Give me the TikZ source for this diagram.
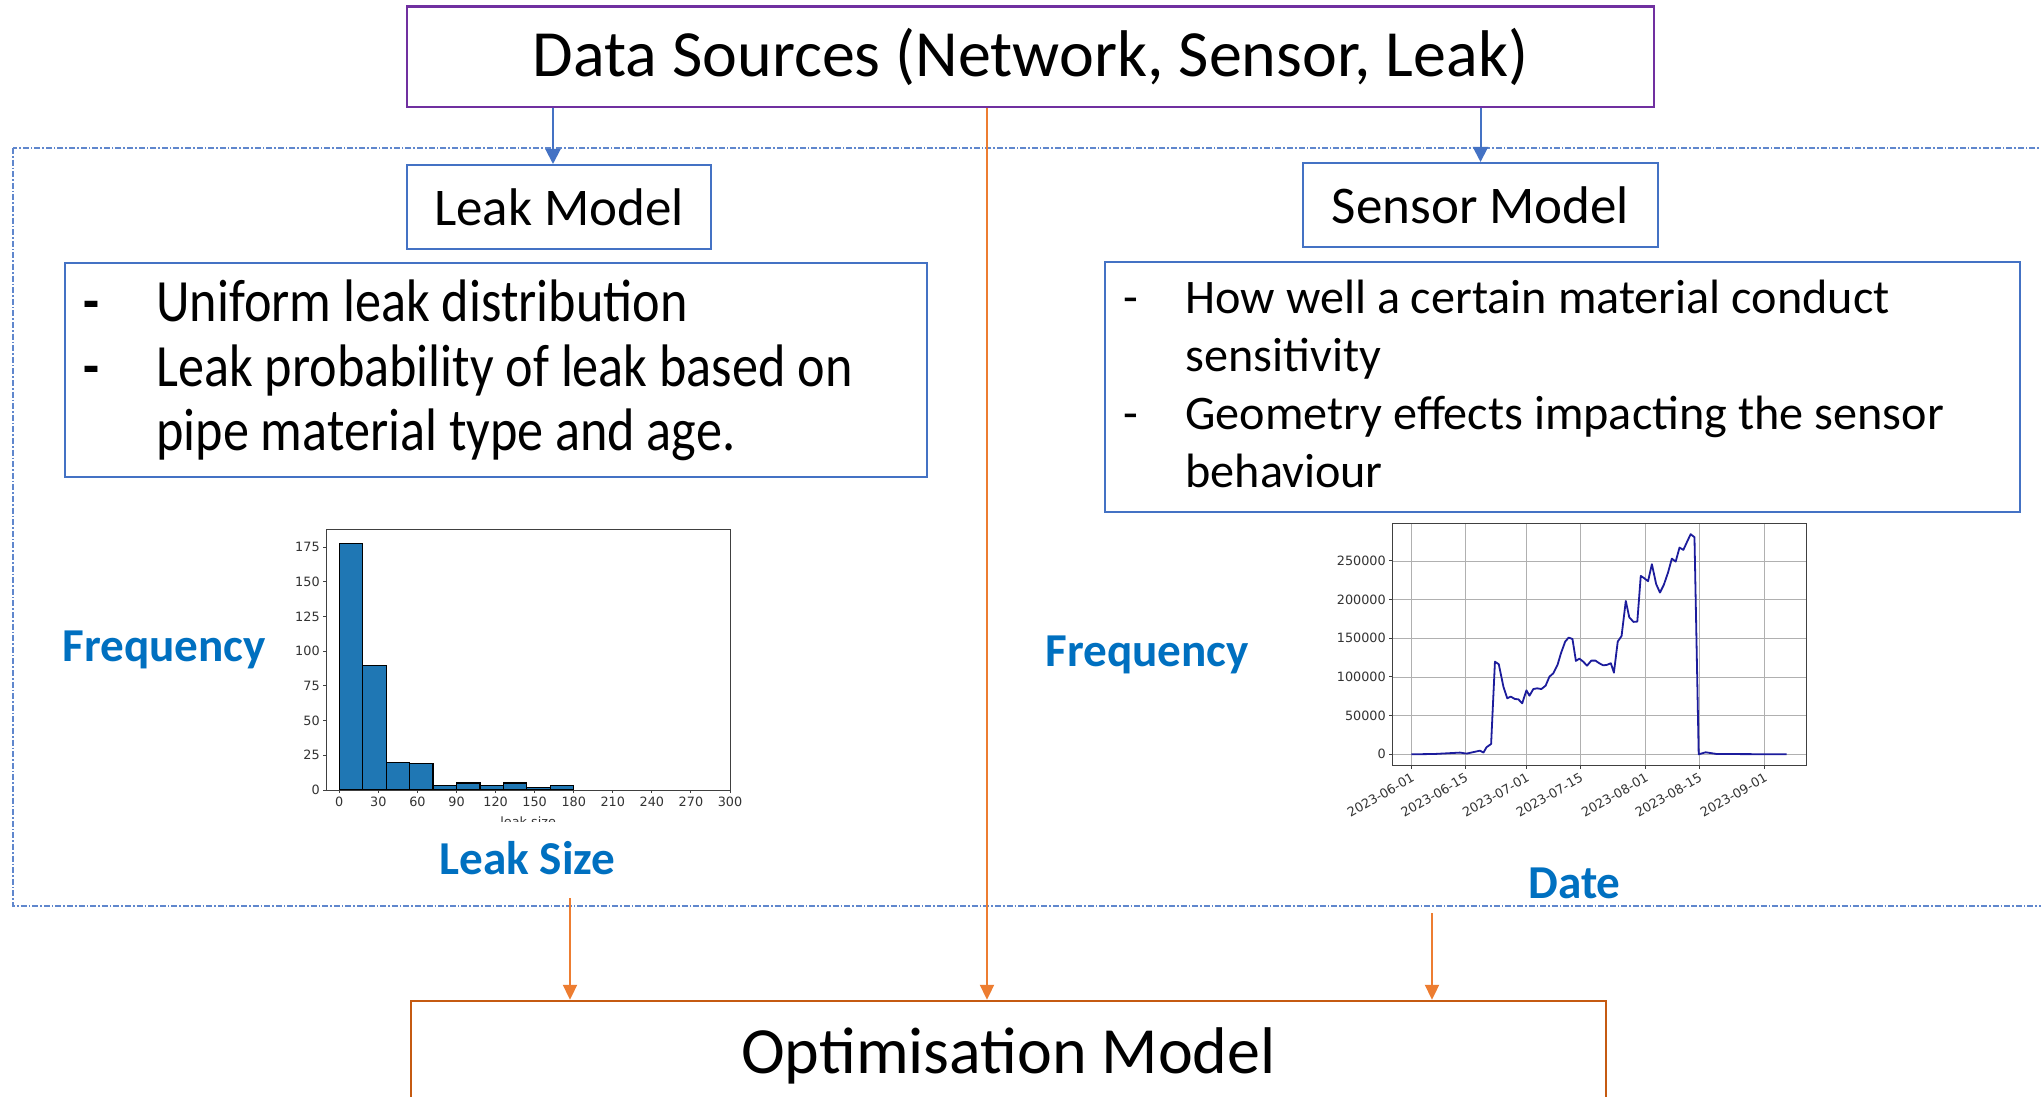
\documentclass[tikz,border=0pt]{standalone}
\usepackage{fontspec}
\setmainfont{Carlito}
\newfontfamily\condfont[FakeStretch=0.87]{Carlito}
\newfontfamily\plotfont{DejaVu Sans}
\usetikzlibrary{arrows.meta,positioning}
\definecolor{boxblue}{HTML}{4472C4}
\definecolor{srcpurple}{HTML}{7030A0}
\definecolor{linkorange}{HTML}{ED7D31}
\definecolor{optorange}{HTML}{C55A11}
\definecolor{labelblue}{HTML}{0070C0}
\definecolor{barblue}{HTML}{1F77B4}
\definecolor{tracenavy}{HTML}{1C1C9C}
\definecolor{gridgrey}{HTML}{B0B0B0}
\tikzset{
  modelbox/.style={draw=boxblue, line width=1pt, inner sep=0pt, font=\fontsize{26.5}{32}\selectfont},
  pointbox/.style={draw=boxblue, line width=0.9pt, inner sep=0pt},
  leakline/.style={anchor=base west, inner sep=0pt, font=\condfont\fontsize{30}{35}\selectfont},
  leakdash/.style={anchor=base, inner sep=0pt, font=\condfont\bfseries\fontsize{30}{35}\selectfont},
  sensline/.style={anchor=base west, inner sep=0pt, font=\fontsize{24.1}{29}\selectfont},
  sensdash/.style={anchor=base, inner sep=0pt, font=\fontsize{24.1}{29}\selectfont},
  axislabel/.style={anchor=base west, inner sep=0pt, text=labelblue, font=\bfseries\fontsize{23.6}{28}\selectfont},
  ticklabel/.style={inner sep=1.5pt, text=black!80, font=\plotfont\fontsize{6.4}{7}\selectfont},
  srcarrow/.style={draw=boxblue, line width=1pt, -{Triangle[length=7.5pt,width=7.5pt]}},
  optarrow/.style={draw=linkorange, line width=1pt, -{Triangle[length=7.5pt,width=7pt]}}
}
\begin{document}
\begin{tikzpicture}[x=0.5pt,y=-0.5pt]
\clip (0,0) rectangle (2041,1097);
\fill[white] (0,0) rectangle (2041,1097);

% group of the two models
\draw[boxblue!85, line width=0.8pt, dash pattern=on 3pt off 1pt on 0.8pt off 1pt] (13,148) rectangle (2070,906);

\node[draw=srcpurple, line width=1.3pt, minimum width=623.5pt, minimum height=50.25pt, font=\fontsize{33}{40}\selectfont] (ds) at (1030.5,56.75) {Data Sources (Network, Sensor, Leak)};
\node[modelbox, minimum width=152pt, minimum height=42pt] (leakm) at (559,207) {Leak Model};
\node[modelbox, minimum width=177.5pt, minimum height=42pt] (sensm) at (1480.5,205) {Sensor Model};

% leak model points
\node[pointbox, minimum width=431pt, minimum height=107pt] (leakpts) at (496,369.7) {};
\node[leakdash] (ld1) at (91,321.7) {-};
\node[leakline] (lt1) at (156,321.7) {Uniform leak distribution};
\node[leakdash] (ld2) at (91,386.7) {-};
\node[leakline] (lt2) at (156,386.7) {Leak probability of leak based on};
\node[leakline] (lt3) at (156,450.7) {pipe material type and age.};

% sensor model points
\node[pointbox, minimum width=457.5pt, minimum height=125pt] (senspts) at (1562.5,387) {};
\node[sensdash] (sd1) at (1131,313) {-};
\node[sensline] (st1) at (1185,313) {How well a certain material conduct};
\node[sensline] (st2) at (1185,371) {sensitivity};
\node[sensdash] (sd2) at (1131,429) {-};
\node[sensline] (st3) at (1185,429) {Geometry effects impacting the sensor};
\node[sensline] (st4) at (1185,487) {behaviour};

\node[axislabel] (leakfreq) at (62,661) {Frequency};
\node[axislabel] (leaksize) at (439,874) {Leak Size};
\node[axislabel] (sensfreq) at (1045,666.7) {Frequency};
\node[axislabel] (sensdate) at (1528,898.3) {Date};

% leak size histogram
\begin{scope}[shift={(339.3,790)}]
\begin{scope}[x=0.6512pt,y=0.6935pt]
  \foreach \h [count=\i from 0] in {178,90,20,19,3,5,3,5,2,3}
    \draw[fill=barblue, draw=black, line width=0.6pt] (18*\i,0) rectangle (18*\i+18,\h);
  \draw[black!75, line width=0.5pt] (-9.7,0) rectangle (300,188);
  \foreach \t in {0,30,...,300}
    \draw[black!75, line width=0.5pt] (\t,0) -- (\t,-2.5) node[below, ticklabel] {\t};
  \foreach \v in {0,25,...,175}
    \draw[black!75, line width=0.5pt] (-9.7,\v) -- (-12.4,\v) node[left, ticklabel] {\v};
  \begin{scope}
    \clip (-40,-19) rectangle (320,-22.4);
    \node[anchor=north, ticklabel, inner sep=0pt] (histx) at (145,-19.3) {leak size};
  \end{scope}
\end{scope}
\end{scope}

% sensor trace over time
\begin{scope}[shift={(1411.3,754.3)}]
\begin{scope}[x=1.9185pt,y=0.3867pt]
  \foreach \d in {0,14,30,44,61,75,92}
    \draw[gridgrey, line width=0.4pt] (\d,-14.7) -- (\d,297.8);
  \foreach \v in {0,50,...,250}
    \draw[gridgrey, line width=0.4pt] (-4.85,\v) -- (103.05,\v);
  \draw[black!75, line width=0.5pt] (-4.85,-14.7) rectangle (103.05,297.8);
  \foreach \v/\vtext in {0/0,50/50000,100/100000,150/150000,200/200000,250/250000}
    \draw[black!75, line width=0.5pt] (-4.85,\v) -- (-5.75,\v) node[left, ticklabel] {\vtext};
  \foreach \d/\dtext in {0/2023-06-01,14/2023-06-15,30/2023-07-01,44/2023-07-15,61/2023-08-01,75/2023-08-15,92/2023-09-01}
    \draw[black!75, line width=0.5pt] (\d,-14.7) -- (\d,-19.2) node[anchor=north east, rotate=30, ticklabel, inner sep=1pt] {\dtext};
  \draw[tracenavy, line width=0.9pt, line join=round] plot coordinates {
    (0,0) (6,0.4) (12.7,2.2) (14.4,0.9) (17.9,4.7) (18.8,2.2) (19.6,9.1) (20.8,13.4)
    (21.8,119.8) (22.8,116.4) (24,87.5) (25,72.4) (25.9,74.6) (27,71.5) (27.9,71.1)
    (28.9,65.9) (30,82.7) (30.8,75.8) (31.8,84.4) (32.8,85.3) (33.9,84.4) (35,88.7)
    (36,100.4) (37,104.7) (38.1,115.5) (39,130.6) (40.1,145.7) (41,150.9) (42,149.1)
    (42.9,120.7) (43.8,123.7) (44.8,119.8) (45.8,114.6) (46.9,121.1) (48,121.1)
    (49,117.7) (50,115.1) (50.9,115.5) (52,117.7) (52.8,105.6) (53.8,145.7)
    (54.8,153.1) (55.9,198.3) (56.8,177.2) (57.9,171.2) (58.9,171.6) (59.8,230.7)
    (60.7,227.7) (61.7,223.8) (62.7,245.8) (63.8,220.3) (64.8,209.1) (65.8,219)
    (66.9,234.9) (67.9,253) (68.9,249.2) (69.9,267.3) (70.9,264.3) (71.9,275.1)
    (72.8,284.6) (73.8,280.7) (74.9,0) (76.7,2.6) (79.6,0.4) (97.8,0)};
\end{scope}
\end{scope}

\node[draw=optorange, line width=1.2pt, minimum width=597.5pt, minimum height=55pt, font=\fontsize{33}{40}\selectfont] (opt) at (1008.5,1056) {Optimisation Model};

% connectors
\coordinate (leakdrop) at (553,0);
\coordinate (midline) at (987,0);
\coordinate (leakout) at (570,898);
\coordinate (sensout) at (1432,913);
\draw[srcarrow] (ds.south -| leakdrop) -- (leakm.north -| leakdrop);
\draw[srcarrow] (ds.south -| sensm.north) -- (sensm.north);
\draw[optarrow] (ds.south -| midline) -- (opt.north -| midline);
\draw[optarrow] (leakout) -- (opt.north -| leakout);
\draw[optarrow] (sensout) -- (opt.north -| sensout);
\end{tikzpicture}
\end{document}
